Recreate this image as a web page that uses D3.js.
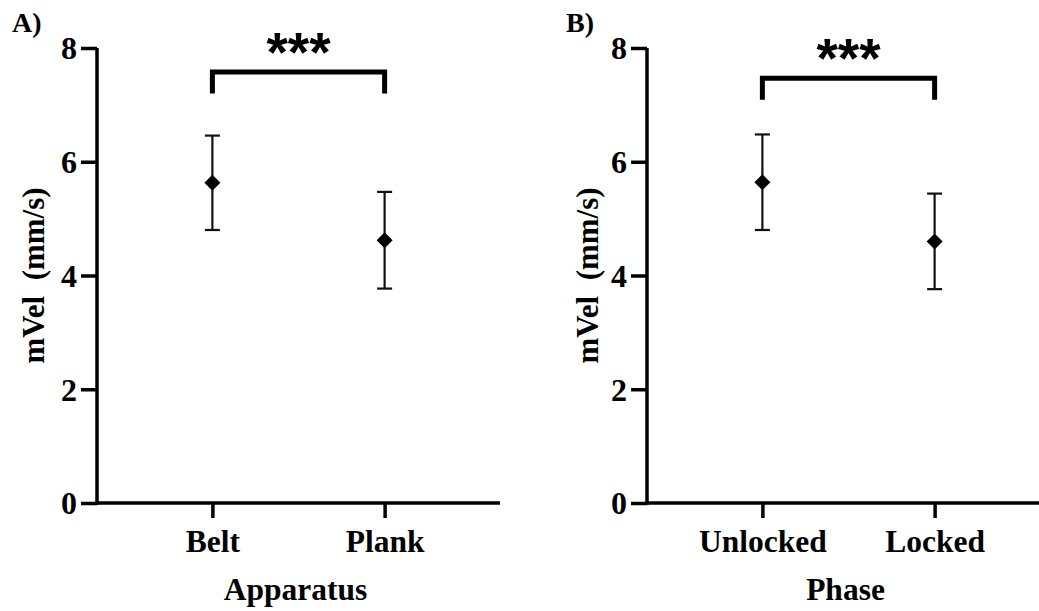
<!DOCTYPE html>
<html>
<head>
<meta charset="utf-8">
<script src="https://cdn.jsdelivr.net/npm/d3@7"></script>
<style>
  html, body { margin: 0; padding: 0; background: #fff; }
  svg { display: block; }
</style>
</head>
<body>
<svg id="chart" width="1039" height="611"></svg>
<script>
// ---- data ----
const panelLabels = ["A)", "B)"];
const xTitles = ["Apparatus", "Phase"];
const yTitle = "mVel\u00A0\u00A0(mm/s)";
const categoriesA = ["Belt", "Plank"];
const categoriesB = ["Unlocked", "Locked"];
const meansA = [5.63, 4.62];
const errorsA = [0.83, 0.85];
const meansB = [5.64, 4.60];
const errorsB = [0.84, 0.84];
const yTicks = [0, 2, 4, 6, 8];
const sigLabels = ["***", "***"];
const bracketTop = [7.58, 7.47];
const bracketLeg = [7.20, 7.09];

const panels = [
  { label: panelLabels[0], cats: categoriesA, means: meansA, errs: errorsA, xTitle: xTitles[0], bTop: bracketTop[0], bLeg: bracketLeg[0], sig: sigLabels[0], x0: 97, yTitleX: 44, labelX: 12 },
  { label: panelLabels[1], cats: categoriesB, means: meansB, errs: errorsB, xTitle: xTitles[1], bTop: bracketTop[1], bLeg: bracketLeg[1], sig: sigLabels[1], x0: 647, yTitleX: 598, labelX: 566 }
];

const svg = d3.select("#chart");
const serif = "'Liberation Serif', 'Times New Roman', serif";
const yTop = 48, yBot = 503, plotW = 403;

const y = d3.scaleLinear().domain([0, 8]).range([yBot, yTop]);

panels.forEach(p => {
  const g = svg.append("g");
  const x = d3.scalePoint().domain(p.cats).range([p.x0, p.x0 + plotW]).padding(0.67);

  // y axis
  const ya = g.append("g").attr("transform", `translate(${p.x0},0)`)
    .call(d3.axisLeft(y).tickValues(yTicks).tickSize(16).tickSizeOuter(0).tickPadding(4));
  ya.select(".domain").attr("stroke", "#000").attr("stroke-width", 3.5).attr("d", `M0,${yTop}V${yBot + 1.75}`);
  ya.selectAll(".tick line").attr("stroke", "#000").attr("stroke-width", 3.5);
  ya.selectAll(".tick text").attr("font-family", serif).attr("font-weight", "bold")
    .attr("font-size", 32).attr("fill", "#000").attr("dy", "0.34em");

  // x axis
  const xa = g.append("g").attr("transform", `translate(0,${yBot})`)
    .call(d3.axisBottom(x).tickSize(15).tickSizeOuter(0).tickPadding(12));
  xa.select(".domain").attr("stroke", "#000").attr("stroke-width", 3.5).attr("d", `M${p.x0 - 1.75},0H${p.x0 + plotW}`);
  xa.selectAll(".tick line").attr("stroke", "#000").attr("stroke-width", 3.5);
  xa.selectAll(".tick text").attr("font-family", serif).attr("font-weight", "bold")
    .attr("font-size", 31.5).attr("fill", "#000");

  // axis titles
  g.append("text").attr("x", p.x0 + plotW / 2 - 3).attr("y", 600)
    .attr("text-anchor", "middle").attr("font-family", serif).attr("font-weight", "bold")
    .attr("font-size", 31.5).text(p.xTitle);
  g.append("text").attr("transform", `translate(${p.yTitleX},${(yTop + yBot) / 2}) rotate(-90)`)
    .attr("text-anchor", "middle").attr("font-family", serif).attr("font-weight", "bold")
    .attr("font-size", 31).text(yTitle);

  // panel label
  g.append("text").attr("x", p.labelX).attr("y", 32).attr("font-family", serif)
    .attr("font-weight", "bold").attr("font-size", 28).text(p.label);

  // error bars
  const data = p.cats.map((c, i) => ({ c, m: p.means[i], e: p.errs[i] }));
  const eb = g.selectAll(".eb").data(data).enter().append("g");
  eb.append("line").attr("x1", d => x(d.c)).attr("x2", d => x(d.c))
    .attr("y1", d => y(d.m + d.e)).attr("y2", d => y(d.m - d.e))
    .attr("stroke", "#111").attr("stroke-width", 2.2);
  [1, -1].forEach(s => {
    eb.append("line").attr("x1", d => x(d.c) - 7.5).attr("x2", d => x(d.c) + 7.5)
      .attr("y1", d => y(d.m + s * d.e)).attr("y2", d => y(d.m + s * d.e))
      .attr("stroke", "#111").attr("stroke-width", 2.2);
  });
  eb.append("path")
    .attr("d", d => { const cx = x(d.c), cy = y(d.m); return `M${cx},${cy - 8}L${cx + 8},${cy}L${cx},${cy + 8}L${cx - 8},${cy}Z`; })
    .attr("fill", "#000");

  // significance bracket
  const xl = x(p.cats[0]), xr = x(p.cats[1]);
  g.append("path")
    .attr("d", `M${xl},${y(p.bLeg)}V${y(p.bTop)}H${xr}V${y(p.bLeg)}`)
    .attr("fill", "none").attr("stroke", "#000").attr("stroke-width", 5).attr("stroke-linejoin", "miter");
  g.append("text").attr("x", (xl + xr) / 2).attr("y", y(p.bTop) - 1)
    .attr("text-anchor", "middle").attr("font-family", "'Liberation Sans', Arial, sans-serif")
    .attr("font-weight", "bold").attr("font-size", 55).text(p.sig);
});
</script>
</body>
</html>
